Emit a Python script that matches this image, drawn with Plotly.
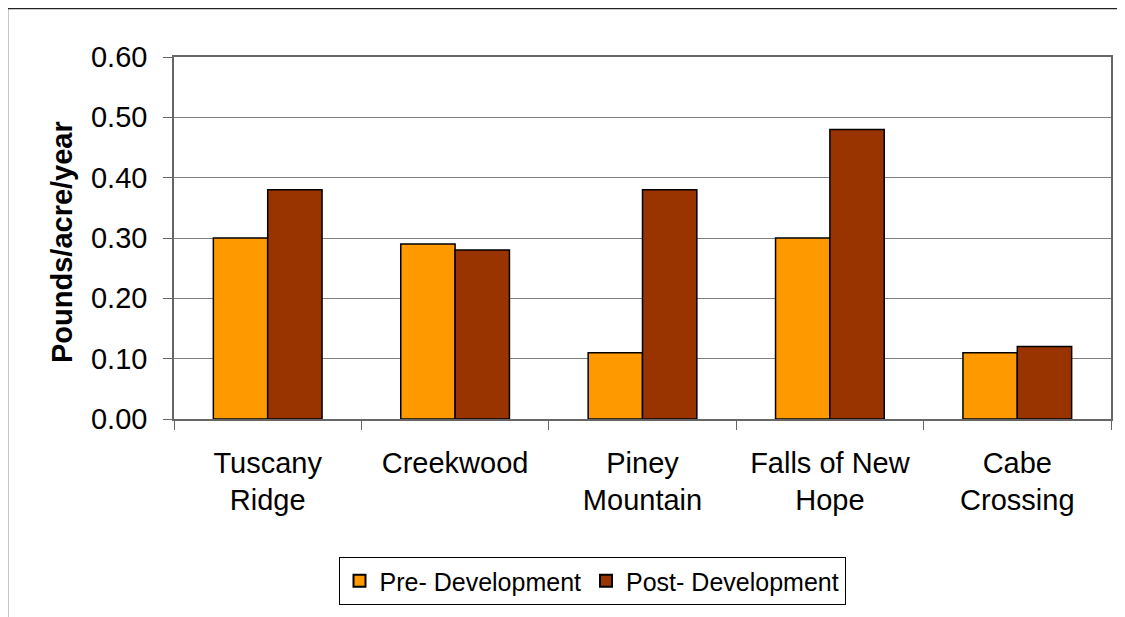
import plotly.graph_objects as go

categories = ["Tuscany<br>Ridge", "Creekwood", "Piney<br>Mountain", "Falls of New<br>Hope", "Cabe<br>Crossing"]
pre_values = [0.30, 0.29, 0.11, 0.30, 0.11]
post_values = [0.38, 0.28, 0.38, 0.48, 0.12]
y_ticks = [0.0, 0.1, 0.2, 0.3, 0.4, 0.5, 0.6]
y_tick_labels = ["0.00", "0.10", "0.20", "0.30", "0.40", "0.50", "0.60"]

FONT = "Arial, Liberation Sans, sans-serif"

fig = go.Figure()
fig.add_trace(go.Bar(name="Pre- Development", x=categories, y=pre_values,
                     marker=dict(color="#FF9900", line=dict(color="#000000", width=1.5))))
fig.add_trace(go.Bar(name="Post- Development", x=categories, y=post_values,
                     marker=dict(color="#993300", line=dict(color="#000000", width=1.5))))

OFF = 8  # page body margin
W, H = 1125 - OFF, 617 - OFF
L, T = 174 - OFF, 57 - OFF
R = 1125 - 1111
B = 617 - 419
pw = W - L - R
ph = H - T - B

def px(xp):
    return (xp - OFF - L) / pw

def py(yp):
    return (H - B - (yp - OFF)) / ph

fig.update_layout(
    width=W, height=H,
    margin=dict(l=L, r=R, t=T, b=B),
    paper_bgcolor="white", plot_bgcolor="white",
    barmode="group", bargap=0.42, bargroupgap=0,
    font=dict(family=FONT, color="black"),
    showlegend=True,
    legend=dict(orientation="h", x=px(592), xanchor="center", y=py(557), yanchor="top",
                bordercolor="#000000", borderwidth=1, font=dict(size=25, family=FONT),
                traceorder="normal", itemsizing="constant"),
    xaxis=dict(showgrid=False, showline=True, linecolor="#666666", linewidth=1.5, mirror=True,
               ticks="outside", ticklen=9, tickcolor="#666666", tickson="boundaries",
               ticklabelstandoff=17,
               tickfont=dict(size=29, family=FONT, color="black")),
    yaxis=dict(range=[0, 0.6], tickvals=y_ticks, ticktext=y_tick_labels,
               showgrid=True, gridcolor="#808080", gridwidth=1,
               showline=True, linecolor="#666666", linewidth=1.5, mirror=True,
               ticks="outside", ticklen=9, tickcolor="#666666", ticklabelstandoff=10,
               tickfont=dict(size=29, family=FONT, color="black"), zeroline=False),
    annotations=[dict(text="<b>Pounds/acre/year</b>", textangle=-90, xref="paper", yref="paper",
                      x=px(62), y=py(242), xanchor="center", yanchor="middle", showarrow=False,
                      font=dict(size=29, family=FONT, color="black"))],
    shapes=[
        dict(type="line", xref="paper", yref="paper", x0=px(7.5), x1=px(1125), y0=py(8.5), y1=py(8.5),
             line=dict(color="#222222", width=1.5), layer="below"),
        dict(type="line", xref="paper", yref="paper", x0=px(7.5), x1=px(7.5), y0=py(8.5), y1=py(617),
             line=dict(color="#222222", width=1.5), layer="below"),
    ],
)

fig.write_html("out.html")
